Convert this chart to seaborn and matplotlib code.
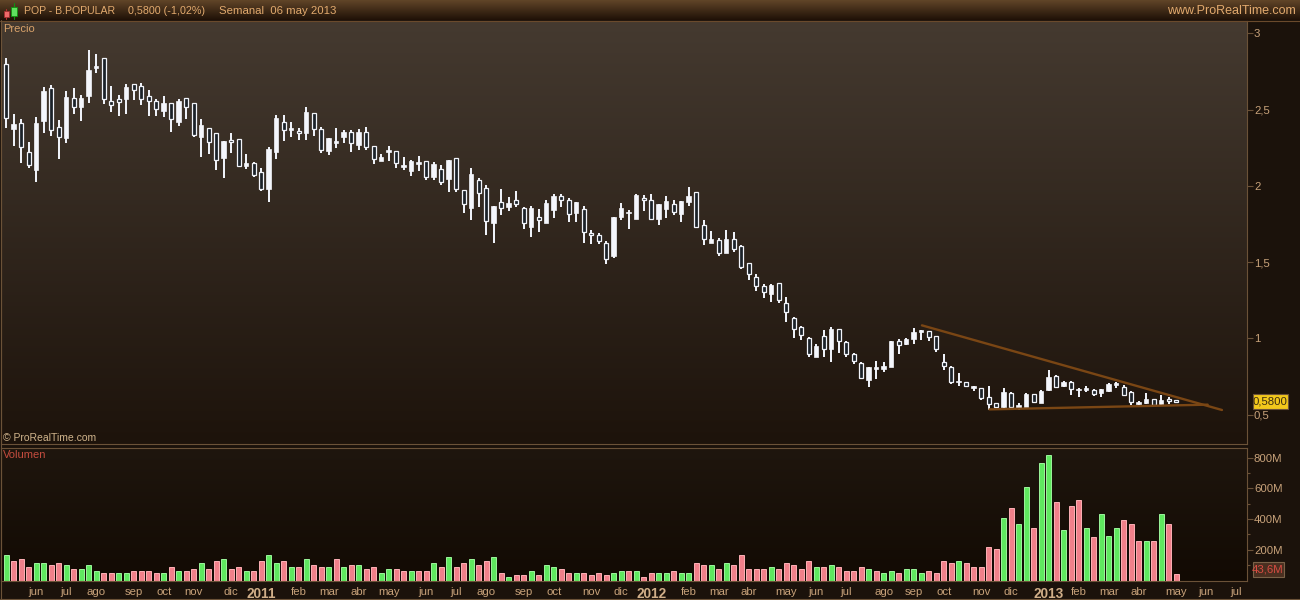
import numpy as np
import pandas as pd
import matplotlib
matplotlib.use('Agg')
import matplotlib.pyplot as plt
import seaborn as sns
from matplotlib.patches import Rectangle

# weekly candles, POP - B.POPULAR
highs = [2.836,2.469,2.436,2.285,2.449,2.646,2.659,2.429,2.619,2.639,
         2.593,2.888,2.862,2.836,2.652,2.593,2.665,2.665,2.672,2.626,
         2.567,2.587,2.541,2.567,2.574,2.541,2.436,2.377,2.344,2.292,
         2.344,2.305,2.206,2.154,2.115,2.252,2.462,2.462,2.416,2.377,
         2.515,2.475,2.383,2.311,2.377,2.364,2.364,2.370,2.383,2.259,
         2.206,2.259,2.226,2.187,2.167,2.193,2.160,2.154,2.136,2.169,
         2.180,1.970,2.115,2.049,2.003,1.868,1.977,1.924,1.964,1.859,
         1.865,1.846,1.905,1.944,1.944,1.918,1.892,1.865,1.708,1.688,
         1.636,1.793,1.885,1.839,1.944,1.938,1.944,1.879,1.931,1.905,
         1.898,1.990,1.957,1.774,1.701,1.656,1.708,1.695,1.610,1.492,
         1.419,1.354,1.354,1.360,1.269,1.137,1.078,1.006,.960,1.052,
         1.072,1.059,.980,.901,.842,.810,.849,.842,.980,.993,
         1.000,1.065,1.052,1.046,1.013,.895,.816,.770,.711,.685,
         .672,.685,.573,.672,.646,.573,.639,.632,.659,.790,
         .757,.718,.718,.672,.685,.665,.665,.705,.711,.691,
         .652,.587,.639,.600,.626,.617,.593]
body_tops = [2.797,2.403,2.410,2.219,2.410,2.622,2.639,2.383,2.580,2.574,
             2.574,2.757,2.786,2.836,2.558,2.567,2.646,2.665,2.652,2.587,
             2.554,2.541,2.541,2.554,2.574,2.541,2.397,2.377,2.344,2.292,
             2.298,2.305,2.147,2.147,2.088,2.239,2.442,2.416,2.377,2.357,
             2.482,2.475,2.370,2.311,2.294,2.351,2.351,2.351,2.351,2.259,
             2.187,2.233,2.226,2.134,2.160,2.154,2.160,2.143,2.110,2.169,
             2.180,1.970,2.077,2.036,1.983,1.868,1.892,1.885,1.905,1.852,
             1.852,1.793,1.885,1.931,1.931,1.905,1.892,1.846,1.688,1.675,
             1.623,1.793,1.852,1.830,1.938,1.918,1.905,1.879,1.898,1.879,
             1.898,1.931,1.957,1.741,1.649,1.642,1.649,1.649,1.603,1.492,
             1.400,1.341,1.347,1.360,1.229,1.131,1.072,1.000,.947,1.013,
             1.059,1.059,.974,.895,.836,.810,.814,.818,.980,.980,
             .993,1.039,1.052,1.046,1.013,.842,.810,.720,.711,.685,
             .672,.613,.573,.646,.639,.560,.632,.632,.652,.744,
             .751,.711,.711,.665,.672,.659,.665,.698,.709,.678,
             .646,.580,.600,.600,.593,.602,.593]
body_bottoms = [2.447,2.375,2.252,2.139,2.106,2.427,2.364,2.318,2.316,2.515,
                2.515,2.591,2.770,2.571,2.532,2.547,2.571,2.626,2.567,2.554,
                2.501,2.493,2.436,2.416,2.515,2.335,2.322,2.285,2.167,2.184,
                2.285,2.132,2.132,2.073,1.981,1.981,2.224,2.364,2.368,2.344,
                2.348,2.370,2.233,2.230,2.278,2.322,2.278,2.270,2.252,2.174,
                2.160,2.224,2.147,2.125,2.099,2.145,2.055,2.060,2.027,2.047,
                1.981,1.879,1.857,1.951,1.767,1.758,1.852,1.859,1.879,1.754,
                1.728,1.774,1.754,1.839,1.905,1.813,1.820,1.695,1.675,1.636,
                1.518,1.542,1.798,1.820,1.785,1.905,1.785,1.785,1.846,1.826,
                1.817,1.892,1.732,1.649,1.623,1.562,1.562,1.588,1.470,1.419,
                1.341,1.301,1.288,1.249,1.170,1.059,1.019,.895,.880,.928,
                .932,.980,.895,.849,.740,.727,.801,.799,.810,.958,
                .960,.993,1.039,1.006,.928,.820,.716,.711,.689,.674,
                .611,.571,.552,.549,.552,.545,.552,.584,.578,.663,
                .678,.685,.665,.659,.659,.637,.639,.654,.696,.626,
                .580,.571,.578,.565,.567,.587,.580]
lows = [2.381,2.263,2.152,2.119,2.027,2.348,2.329,2.178,2.283,2.473,
        2.427,2.545,2.742,2.539,2.486,2.460,2.473,2.565,2.532,2.460,
        2.460,2.453,2.355,2.394,2.436,2.322,2.191,2.211,2.106,2.053,
        2.217,2.132,2.112,2.060,1.968,1.896,2.178,2.296,2.322,2.303,
        2.303,2.329,2.217,2.204,2.250,2.283,2.224,2.237,2.237,2.145,
        2.160,2.160,2.119,2.106,2.066,2.099,2.036,2.038,2.008,1.962,
        1.962,1.825,1.778,1.863,1.680,1.627,1.811,1.837,1.859,1.719,
        1.666,1.699,1.754,1.791,1.863,1.765,1.765,1.627,1.621,1.621,
        1.489,1.529,1.778,1.719,1.785,1.837,1.778,1.745,1.791,1.811,
        1.765,1.870,1.726,1.614,1.623,1.542,1.562,1.568,1.457,1.384,
        1.312,1.266,1.240,1.234,1.109,1.004,.991,.875,.880,.880,
        .847,.906,.880,.834,.731,.683,.735,.781,.810,.899,
        .954,.965,.989,.982,.912,.794,.702,.689,.683,.657,
        .598,.528,.541,.545,.545,.528,.552,.578,.578,.657,
        .674,.683,.630,.617,.650,.624,.617,.650,.676,.626,
        .565,.565,.571,.554,.562,.571,.580]
# F = solid white body, H = hollow body
candle_kind = ("HFHHFFHHFH" "FFFHHHFHHH" "HFHFHHFHHF" "HHFHHFFHFH" "FHHFFFHFHH"
               "FFHFFFHFHF" "HHFHHFHFHH" "FHFFHHFHHH" "HFFFFHHFFH" "FFHHFHFHHH"
               "HHFHHHHHFH" "FHHHHFFFFH" "FFFHHHHFHF" "HHHFHFFHFF" "HFHFFHFFFH"
               "HFFHFHH")

volumes = [163,130,137,85,117,111,104,117,104,72,
           72,98,59,52,46,46,52,59,59,65,
           52,46,85,59,59,78,111,78,124,137,
           78,85,65,65,130,163,111,130,85,85,
           137,98,85,85,137,91,104,98,78,85,
           46,72,72,65,65,65,59,111,91,156,
           91,117,143,98,130,150,46,26,33,33,
           59,39,104,85,78,52,52,52,33,46,
           33,46,59,59,65,26,52,46,46,65,
           52,52,117,98,98,78,117,98,169,78,
           72,72,91,72,117,104,78,130,85,91,
           98,91,59,65,91,72,59,52,65,46,
           78,72,52,59,52,124,111,124,117,85,
           85,221,202,404,469,371,612,339,762,820,
           508,332,488,527,345,280,430,293,339,391,
           365,260,254,260,430,371,43.6]
volume_side = ("GPPPGGPPGP" "GGGPPGGPPP" "PGPGPPGPPG" "PPGPPGGPGP" "GPPGPGPGPP"
               "GGPPGPPGPG" "PPGPPGPGPP" "GPGGPPGPPP" "PGGPGPPGGP" "GGPPGPGPPP"
               "PPGPPPPPGP" "GPPPPGPGGP" "GGGPPPPGPP" "PPPGPGGPGG" "PGPPGPGGGP"
               "PPGPGPP")

month_weeks = [4,8,12,17,21,25,30,34,39,43,47,51,56,60,64,69,73,78,82,86,91,95,99,
               104,108,112,117,121,125,130,134,139,143,147,151,156,160,164]
month_labels = ['jun','jul','ago','sep','oct','nov','dic','2011','feb','mar','abr','may','jun',
                'jul','ago','sep','oct','nov','dic','2012','feb','mar','abr','may','jun','jul',
                'ago','sep','oct','nov','dic','2013','feb','mar','abr','may','jun','jul']

price_ticks = [3, 2.5, 2, 1.5, 1, 0.5]
price_tick_labels = ['3', '2,5', '2', '1,5', '1', '0,5']
vol_ticks = [200, 400, 600, 800]
vol_tick_labels = ['200M', '400M', '600M', '800M']
vol_minor_ticks = [100, 300, 500, 700]

# trend lines drawn on the chart (week, price)
upper_line_x = [122.1, 162.1]
upper_line_y = [1.085, 0.530]
lower_line_x = [131.1, 160.2]
lower_line_y = [0.534, 0.565]

BROWN = '#6b5238'
TAN = '#c8a27a'
W, H = 1300, 600
X_RANGE = (-0.693, 165.44)

sns.set_theme(style='dark', rc={'axes.grid': False})
plt.rcParams['font.family'] = ['Liberation Sans', 'DejaVu Sans']

fig = plt.figure(figsize=(13, 6), dpi=100, facecolor='#1b120b')


def panel(y_top, y_bottom):
    return fig.add_axes([1 / W, 1 - y_bottom / H, 1246 / W, (y_bottom - y_top) / H])


def gradient(ax, top, bottom):
    c0, c1 = np.array(matplotlib.colors.to_rgb(top)), np.array(matplotlib.colors.to_rgb(bottom))
    t = np.linspace(0, 1, 256)[:, None, None]
    img = c0[None, None, :] * (1 - t) + c1[None, None, :] * t
    ax.imshow(img, extent=(0, 1, 0, 1), transform=ax.transAxes, aspect='auto', zorder=0)


weeks = np.arange(len(highs))
highs, lows = np.array(highs), np.array(lows)
body_tops, body_bottoms = np.array(body_tops), np.array(body_bottoms)
solid = np.array([k == 'F' for k in candle_kind])

# price panel
ax = panel(20.5, 444)
gradient(ax, '#453a30', '#1d130b')
ax.vlines(weeks, lows, highs, color='#eef1f8', lw=1.44, zorder=2, antialiased=False)
ax.bar(weeks[~solid], (body_tops - body_bottoms)[~solid], bottom=body_bottoms[~solid], width=4.0 / 7.5,
       color='#1a2128', edgecolor='#f2f4fa', linewidth=0.9, zorder=3)
ax.bar(weeks[solid], (body_tops - body_bottoms)[solid], bottom=body_bottoms[solid], width=4.6 / 7.5,
       color='#f4f6fc', edgecolor='#f4f6fc', linewidth=0.5, zorder=3)
sns.lineplot(x=upper_line_x, y=upper_line_y, ax=ax, color='#7a4614', lw=1.7, zorder=4)
sns.lineplot(x=lower_line_x, y=lower_line_y, ax=ax, color='#7a4614', lw=1.7, zorder=4)
ax.set_xlim(*X_RANGE)
ax.set_ylim(0.307, 3.084)
ax.set_xticks([])
ax.yaxis.tick_right()
ax.set_yticks(price_ticks, price_tick_labels)
ax.tick_params(axis='y', length=4, width=0.8, color=BROWN, labelcolor=TAN, labelsize=8.2, pad=1)

# volume panel
vol_df = pd.DataFrame({'week': weeks, 'volume': volumes, 'side': list(volume_side)})
vol_ax = panel(447.5, 580.5)
gradient(vol_ax, '#1f160e', '#120a03')
sns.barplot(data=vol_df, x='week', y='volume', hue='side', native_scale=True, dodge=False, legend=False,
            palette={'G': '#5fe85f', 'P': '#f0808a'}, saturation=1, width=0.68, gap=0, ax=vol_ax, zorder=2)
for bar in vol_ax.patches:
    green = bar.get_facecolor()[1] > 0.8
    bar.set_edgecolor('#9cf59c' if green else '#fdb0b6')
    bar.set_linewidth(0.7)
vol_ax.set_xlim(*X_RANGE)
vol_ax.set_ylim(0, 866)
vol_ax.set_xlabel('')
vol_ax.set_ylabel('')
vol_ax.yaxis.tick_right()
vol_ax.set_yticks(vol_ticks, vol_tick_labels)
vol_ax.set_yticks(vol_minor_ticks, minor=True)
vol_ax.tick_params(axis='y', which='major', length=4, width=0.8, color=BROWN, labelcolor=TAN, labelsize=8.2, pad=1)
vol_ax.tick_params(axis='y', which='minor', length=2.5, width=0.8, color=BROWN)
vol_ax.set_xticks(month_weeks, month_labels)
vol_ax.tick_params(axis='x', length=3, width=0.8, color=BROWN, labelcolor=TAN, labelsize=8.2, pad=2)
for lab in vol_ax.get_xticklabels():
    if lab.get_text().startswith('20'):
        lab.set_fontsize(9.8)
        lab.set_fontweight('bold')
        lab.set_color('#d0ae88')

for a in (ax, vol_ax):
    for side in a.spines:
        a.spines[side].set_color(BROWN)
        a.spines[side].set_linewidth(0.8)
        a.spines[side].set_visible(True)

# frame, header and labels in pixel coordinates
top = fig.add_axes([0, 0, 1, 1], zorder=10)
top.axis('off')
top.patch.set_alpha(0)
c0, c1 = np.array(matplotlib.colors.to_rgb('#614528')), np.array(matplotlib.colors.to_rgb('#1f1107'))
t = np.linspace(0, 1, 64)[:, None, None]
top.imshow(c0[None, None, :] * (1 - t) + c1[None, None, :] * t, extent=(0, W, 20, 0), aspect='auto', zorder=1)
top.set_xlim(0, W)
top.set_ylim(H, 0)
top.plot([0, W], [20.5, 20.5], color='#6a4a2c', lw=0.8, zorder=2)
top.plot([0, W], [598.7, 598.7], color=BROWN, lw=0.8, zorder=2)
top.plot([1.2, 1.2], [20, 599], color=BROWN, lw=0.8, zorder=2)

# little candle icon in the header
top.plot([6, 6], [8.5, 18.5], color='#b03030', lw=0.8, zorder=2)
top.add_patch(Rectangle((3.5, 10.5), 5, 6, fc='#f06a6a', ec='#a03030', lw=0.6, zorder=3))
top.plot([14, 14], [3, 18.5], color='#109010', lw=0.8, zorder=2)
top.add_patch(Rectangle((11, 6.5), 6, 9, fc='#60e060', ec='#109010', lw=0.6, zorder=3))

head = dict(color='#e2aa6e', fontsize=7.6, va='center', ha='left', zorder=4)
top.text(23.5, 11, 'POP - B.POPULAR', **head)
top.text(128, 11, '0,5800 (-1,02%)', **dict(head, fontsize=7.75))
top.text(219, 11, 'Semanal  06 may 2013', **dict(head, fontsize=8.2))
top.text(1296, 11, 'www.ProRealTime.com', **dict(head, ha='right', fontsize=9))
top.text(3, 28.5, 'Precio', color='#d8a26a', fontsize=8, va='center', ha='left', zorder=4)
top.text(3, 455, 'Volumen', color='#c44c3e', fontsize=8, va='center', ha='left', zorder=4)
top.text(3, 438, '\u00a9 ProRealTime.com', color='#d0b48c', fontsize=7.5, va='center', ha='left', zorder=4)

# last value tags on the right
top.add_patch(Rectangle((1252.7, 394.3), 35, 15, fc='#f2c81c', ec='#6b5238', lw=0.8, zorder=3))
top.text(1270, 402, '0,5800', color='#3c2c10', fontsize=8.2, va='center', ha='center', zorder=4)
top.add_patch(Rectangle((1252.7, 562.3), 31, 15, fc='#4a2f20', ec='#7a6248', lw=0.8, zorder=3))
top.text(1268, 570, '43,6M', color='#d84c42', fontsize=8.2, va='center', ha='center', zorder=4)

fig.savefig('out.png', dpi=100, facecolor=fig.get_facecolor())
